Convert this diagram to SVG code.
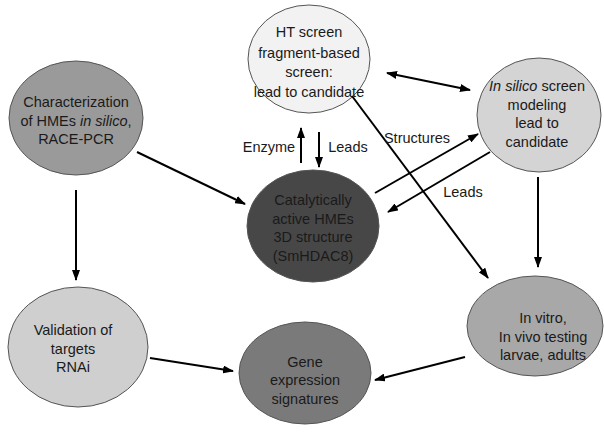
<svg xmlns="http://www.w3.org/2000/svg" width="604" height="434" viewBox="0 0 604 434">
<defs>
<marker id="ah" markerWidth="11" markerHeight="8" refX="10" refY="4" orient="auto" markerUnits="userSpaceOnUse">
<path d="M0,0 L11,4 L0,8 Z" fill="#000"/>
</marker>
<marker id="as" markerWidth="11" markerHeight="8" refX="1" refY="4" orient="auto" markerUnits="userSpaceOnUse">
<path d="M11,0 L0,4 L11,8 Z" fill="#000"/>
</marker>
</defs>
<style>
.n{stroke:#555;stroke-width:1}
.t{font-family:"Liberation Sans",Arial,sans-serif;font-size:14.5px;fill:#1a1a1a;text-anchor:middle}
.c{stroke:#000;stroke-width:2;fill:none}
</style>
<rect width="604" height="434" fill="#fff"/>
<g id="n1">
<ellipse class="n" cx="76" cy="118" rx="67" ry="57" fill="#9a9a9a"/>
<text class="t" x="76" y="107">Characterization</text>
<text class="t" x="76" y="126">of HMEs <tspan font-style="italic">in silico</tspan>,</text>
<text class="t" x="76" y="144">RACE-PCR</text>
</g>
<g id="n2">
<ellipse class="n" cx="309" cy="59" rx="61" ry="54" fill="#f2f2f2"/>
<text class="t" x="309" y="37">HT screen</text>
<text class="t" x="309" y="58">fragment-based</text>
<text class="t" x="309" y="77">screen:</text>
<text class="t" x="309" y="97">lead to candidate</text>
</g>
<g id="n3">
<ellipse class="n" cx="539" cy="115" rx="62" ry="57" fill="#d4d4d4"/>
<text class="t" x="537" y="91"><tspan font-style="italic">In silico</tspan> screen</text>
<text class="t" x="537" y="110">modeling</text>
<text class="t" x="537" y="128">lead to</text>
<text class="t" x="537" y="147">candidate</text>
</g>
<g id="n4">
<ellipse class="n" cx="313" cy="226" rx="66" ry="56" fill="#474747"/>
<text class="t" x="313" y="205">Catalytically</text>
<text class="t" x="313" y="224">active HMEs</text>
<text class="t" x="313" y="242">3D structure</text>
<text class="t" x="313" y="261">(SmHDAC8)</text>
</g>
<g id="n5">
<ellipse class="n" cx="78" cy="347" rx="70" ry="60" fill="#cfcfcf"/>
<text class="t" x="73" y="335">Validation of</text>
<text class="t" x="73" y="354">targets</text>
<text class="t" x="73" y="372">RNAi</text>
</g>
<g id="n6">
<ellipse class="n" cx="305" cy="373" rx="66" ry="51" fill="#7a7a7a"/>
<text class="t" x="305" y="367">Gene</text>
<text class="t" x="305" y="385">expression</text>
<text class="t" x="305" y="404">signatures</text>
</g>
<g id="n7">
<ellipse class="n" cx="535" cy="326" rx="68" ry="50" fill="#a8a8a8"/>
<text class="t" x="543" y="323">In vitro,</text>
<text class="t" x="543" y="342">In vivo testing</text>
<text class="t" x="543" y="360">larvae, adults</text>
</g>
<g id="connectors">
<line class="c" x1="137" y1="152" x2="245" y2="204" marker-end="url(#ah)"/>
<line class="c" x1="76" y1="190" x2="76" y2="280" marker-end="url(#ah)"/>
<line class="c" x1="150" y1="358" x2="233" y2="371" marker-end="url(#ah)"/>
<line class="c" x1="465" y1="357" x2="375" y2="380" marker-end="url(#ah)"/>
<line class="c" x1="538" y1="177" x2="538" y2="267" marker-end="url(#ah)"/>
<line class="c" x1="387" y1="73" x2="470" y2="90" marker-start="url(#as)" marker-end="url(#ah)"/>
<line class="c" x1="352" y1="96" x2="488" y2="278" marker-end="url(#ah)"/>
<line class="c" x1="375" y1="193" x2="478" y2="134" marker-end="url(#ah)"/>
<line class="c" x1="490" y1="152" x2="388" y2="212" marker-end="url(#ah)"/>
<line class="c" x1="301" y1="163" x2="301" y2="128" marker-end="url(#ah)"/>
<line class="c" x1="319" y1="132" x2="319" y2="167" marker-end="url(#ah)"/>
<text class="t" x="269" y="152">Enzyme</text>
<text class="t" x="348" y="152">Leads</text>
<text class="t" x="417" y="143">Structures</text>
<text class="t" x="463" y="197">Leads</text>
</g>
</svg>
